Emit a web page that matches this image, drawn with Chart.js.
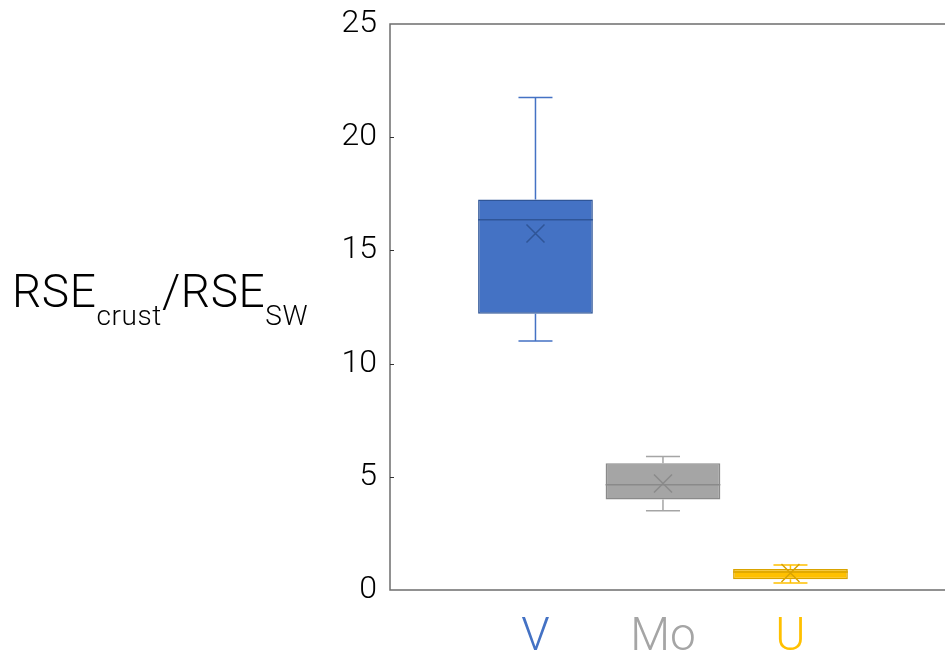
<!DOCTYPE html>
<html>
<head>
<meta charset="utf-8">
<script src="https://cdn.jsdelivr.net/npm/chart.js@4.4.1/dist/chart.umd.min.js"></script>
<style>
  html, body { margin:0; padding:0; background:#fff; overflow:hidden; }
  #wrap { position:relative; width:945px; height:656px; overflow:hidden; }
  #c { position:absolute; left:0; top:0; }
  #ylab { position:absolute; left:12px; top:268px; line-height:46px; font-family:Roboto, "Liberation Sans", sans-serif; font-weight:300; font-size:46px; letter-spacing:0.6px; color:#000; white-space:nowrap; }
  #ylab sub { font-size:28px; vertical-align:-18px; line-height:28px; }
</style>
</head>
<body>
<div id="wrap">
  <canvas id="c" width="1000" height="656"></canvas>
  <div id="ylab">RSE<sub>crust</sub>/RSE<sub>SW</sub></div>
</div>
<script>
var categories = ['V', 'Mo', 'U'];
var minVals    = [11.0, 3.5, 0.31];
var q1Vals     = [12.2, 4.0, 0.48];
var medianVals = [16.35, 4.65, 0.8];
var q3Vals     = [17.25, 5.6, 0.93];
var maxVals    = [21.75, 5.9, 1.1];
var meanVals   = [15.75, 4.7, 0.75];
var yTicks     = [0, 5, 10, 15, 20, 25];

var fills   = ['#4472C4', '#A5A5A5', '#FFC000'];
var borders = ['#2F5597', '#8A8A8A', '#D9A300'];
var FONT = 'Roboto, "Liberation Sans", sans-serif';

var boxes = categories.map(function(c, i){ return { x: i + 1, y: [q1Vals[i], q3Vals[i]] }; });

var boxPlugin = {
  id: 'boxparts',
  afterDatasetsDraw: function(chart){
    var ctx = chart.ctx, ys = chart.scales.y;
    var meta = chart.getDatasetMeta(0);
    ctx.save();
    meta.data.forEach(function(bar, i){
      var cx = bar.x, hw = bar.width / 2, cap = 17;
      var pMin = ys.getPixelForValue(minVals[i]), pMax = ys.getPixelForValue(maxVals[i]);
      var pQ1 = ys.getPixelForValue(q1Vals[i]), pQ3 = ys.getPixelForValue(q3Vals[i]);
      ctx.lineWidth = 1.5;
      ctx.strokeStyle = fills[i];
      ctx.beginPath();
      ctx.moveTo(cx, pQ3); ctx.lineTo(cx, pMax);
      ctx.moveTo(cx - cap, pMax); ctx.lineTo(cx + cap, pMax);
      ctx.moveTo(cx, pQ1); ctx.lineTo(cx, pMin);
      ctx.moveTo(cx - cap, pMin); ctx.lineTo(cx + cap, pMin);
      ctx.stroke();
      ctx.strokeStyle = borders[i];
      var pMed = ys.getPixelForValue(medianVals[i]);
      ctx.beginPath();
      ctx.moveTo(cx - hw, pMed); ctx.lineTo(cx + hw, pMed);
      ctx.stroke();
      var pMean = ys.getPixelForValue(meanVals[i]), s = 9;
      ctx.beginPath();
      ctx.moveTo(cx - s, pMean - s); ctx.lineTo(cx + s, pMean + s);
      ctx.moveTo(cx - s, pMean + s); ctx.lineTo(cx + s, pMean - s);
      ctx.stroke();
    });
    // frame and inward ticks
    var a = chart.chartArea;
    ctx.strokeStyle = '#6e6e6e';
    ctx.lineWidth = 1.5;
    ctx.beginPath();
    ctx.moveTo(a.right + 20, a.top); ctx.lineTo(a.left, a.top);
    ctx.lineTo(a.left, a.bottom); ctx.lineTo(a.right + 20, a.bottom);
    ctx.stroke();
    ctx.strokeStyle = '#333';
    ctx.lineWidth = 1;
    ctx.beginPath();
    yTicks.forEach(function(v){
      if (v === 0 || v === 25) return;
      var p = Math.round(ys.getPixelForValue(v)) + 0.5;
      ctx.moveTo(a.left, p); ctx.lineTo(a.left + 4, p);
    });
    ctx.stroke();
    ctx.restore();
  }
};

new Chart(document.getElementById('c'), {
  type: 'bar',
  data: {
    datasets: [{
      data: boxes,
      backgroundColor: fills,
      borderColor: borders,
      borderWidth: 1.5,
      borderSkipped: false,
      barPercentage: 0.9,
      categoryPercentage: 1
    }]
  },
  options: {
    responsive: false,
    animation: false,
    layout: { padding: { left: 0, top: 24, right: 10, bottom: 0 } },
    plugins: { legend: { display: false }, tooltip: { enabled: false } },
    scales: {
      x: {
        type: 'linear',
        offset: false,
        min: -0.141,
        max: 4.565,
        grid: { display: false, drawTicks: false },
        border: { display: false },
        afterBuildTicks: function(s){ s.ticks = categories.map(function(c, i){ return { value: i + 1 }; }); },
        afterFit: function(s){ s.height = 66; s.paddingLeft = 0; s.paddingRight = 0; },
        ticks: {
          padding: 21,
          autoSkip: false,
          maxRotation: 0,
          font: { family: FONT, size: 46, weight: 300 },
          color: function(c){ return fills[c.index]; },
          callback: function(v){ return categories[v - 1]; }
        }
      },
      y: {
        min: 0,
        max: 25,
        grid: { display: false, drawTicks: false },
        border: { display: false },
        afterBuildTicks: function(s){ s.ticks = yTicks.map(function(v){ return { value: v }; }); },
        afterFit: function(s){ s.width = 390; s.paddingTop = 0; s.paddingBottom = 0; },
        ticks: {
          padding: 13,
          font: { family: FONT, size: 32, weight: 300 },
          color: '#000'
        }
      }
    }
  },
  plugins: [boxPlugin]
});
</script>
</body>
</html>
